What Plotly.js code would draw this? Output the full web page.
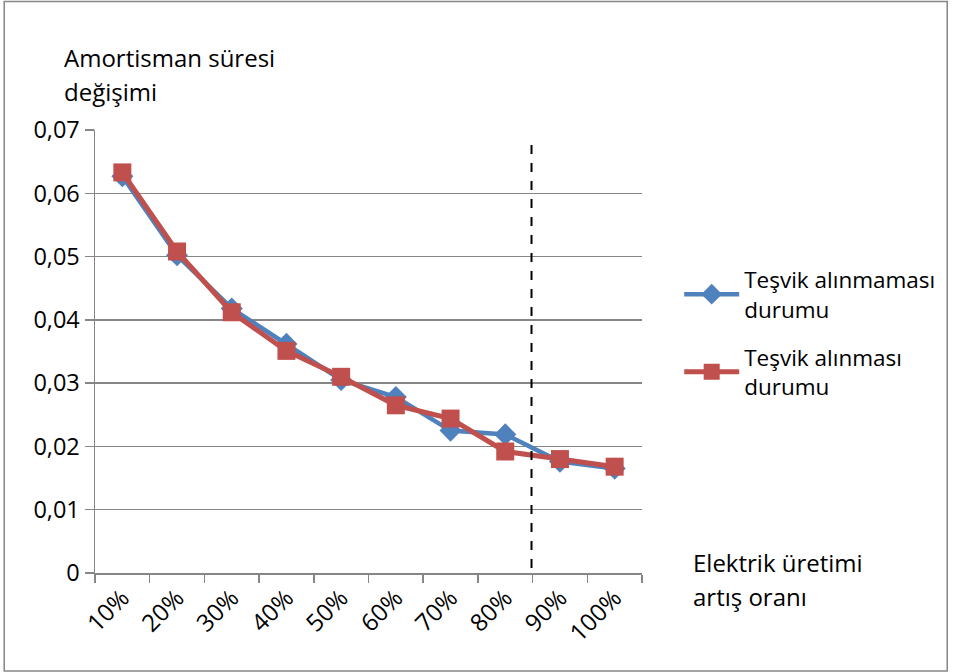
<!DOCTYPE html>
<html>
<head>
<meta charset="utf-8">
<script src="https://cdn.plot.ly/plotly-3.0.1.min.js"></script>
<style>html,body{margin:0;padding:0;background:#fff;}#chart{width:953px;height:672px;}</style>
</head>
<body>
<div id="chart"></div>
<script>
const categories = ['10%', '20%', '30%', '40%', '50%', '60%', '70%', '80%', '90%', '100%'];
const seriesNames = ['Teşvik alınmaması<br>durumu', 'Teşvik alınması<br>durumu'];
const noIncentive = [0.0627, 0.0502, 0.0418, 0.0362, 0.0305, 0.0278, 0.0225, 0.0219, 0.0176, 0.0165];
const withIncentive = [0.0633, 0.0508, 0.0412, 0.0351, 0.0310, 0.0265, 0.0244, 0.0192, 0.0180, 0.0168];
const yTitleLines = ['Amortisman süresi', 'değişimi'];
const xTitleLines = ['Elektrik üretimi', 'artış oranı'];
const dashedLineX = 7.48;
const dashedLineTop = 0.068;

const FONT = 'Open Sans, sans-serif';
const traces = [
  {
    x: categories, y: noIncentive, name: seriesNames[0], legendgroup: 'g1', type: 'scatter', mode: 'lines+markers',
    line: {color: '#4F81BD', width: 4.5},
    marker: {symbol: 'diamond', size: 17, color: '#4F81BD'}
  },
  {
    x: categories, y: withIncentive, name: seriesNames[1], legendgroup: 'g2', type: 'scatter', mode: 'lines+markers',
    line: {color: '#C0504D', width: 5},
    marker: {symbol: 'square', size: 18, color: '#C0504D'}
  }
];

const ann = [];
yTitleLines.forEach((t, i) => ann.push({
  text: t, xref: 'paper', yref: 'paper', x: -0.06, y: 1.205 - i * 0.077,
  xanchor: 'left', yanchor: 'top', showarrow: false, align: 'left',
  font: {family: FONT, size: 24, color: '#000'}
}));
xTitleLines.forEach((t, i) => ann.push({
  text: t, xref: 'paper', yref: 'paper', x: 1.09, y: 0.066 - i * 0.078,
  xanchor: 'left', yanchor: 'top', showarrow: false, align: 'left',
  font: {family: FONT, size: 24, color: '#000'}
}));

const layout = {
  width: 953, height: 672,
  margin: {l: 95, r: 307, t: 130, b: 99},
  separators: ',.',
  paper_bgcolor: '#fff', plot_bgcolor: '#fff',
  font: {family: FONT, size: 23, color: '#000'},
  showlegend: true,
  legend: {
    x: 1.068, y: 0.71, xanchor: 'left', yanchor: 'top',
    font: {family: FONT, size: 22.5, color: '#000'},
    tracegroupgap: 16, itemwidth: 55, bgcolor: 'rgba(0,0,0,0)'
  },
  xaxis: {
    type: 'category', range: [-0.5, 9.5], tickangle: -45,
    tickson: 'boundaries', ticks: 'outside', ticklen: 8, tickcolor: '#868686', tickwidth: 1.5,
    showgrid: false, showline: true, linecolor: '#868686', linewidth: 1.5,
    tickfont: {family: FONT, size: 24, color: '#000'}, fixedrange: true
  },
  yaxis: {
    range: [0, 0.07], dtick: 0.01, tick0: 0,
    ticks: 'outside', ticklen: 9, tickcolor: '#868686', tickwidth: 1.5,
    showgrid: true, gridcolor: '#868686', gridwidth: 1.5,
    showline: true, linecolor: '#868686', linewidth: 1.5, zeroline: false,
    tickfont: {family: FONT, size: 23.5, color: '#000'}, fixedrange: true
  },
  shapes: [
    {type: 'line', xref: 'x', yref: 'y', x0: dashedLineX, x1: dashedLineX, y0: 0.0008, y1: dashedLineTop,
     line: {color: '#000', width: 2, dash: 'dash'}},
    {type: 'rect', xref: 'paper', yref: 'paper', x0: -0.166, x1: 1.558, y0: -0.221, y1: 1.29,
     line: {color: '#868686', width: 1.5}, fillcolor: 'rgba(0,0,0,0)', layer: 'below'}
  ],
  annotations: ann
};

Plotly.newPlot('chart', traces, layout, {displayModeBar: false, staticPlot: true});
</script>
</body>
</html>
